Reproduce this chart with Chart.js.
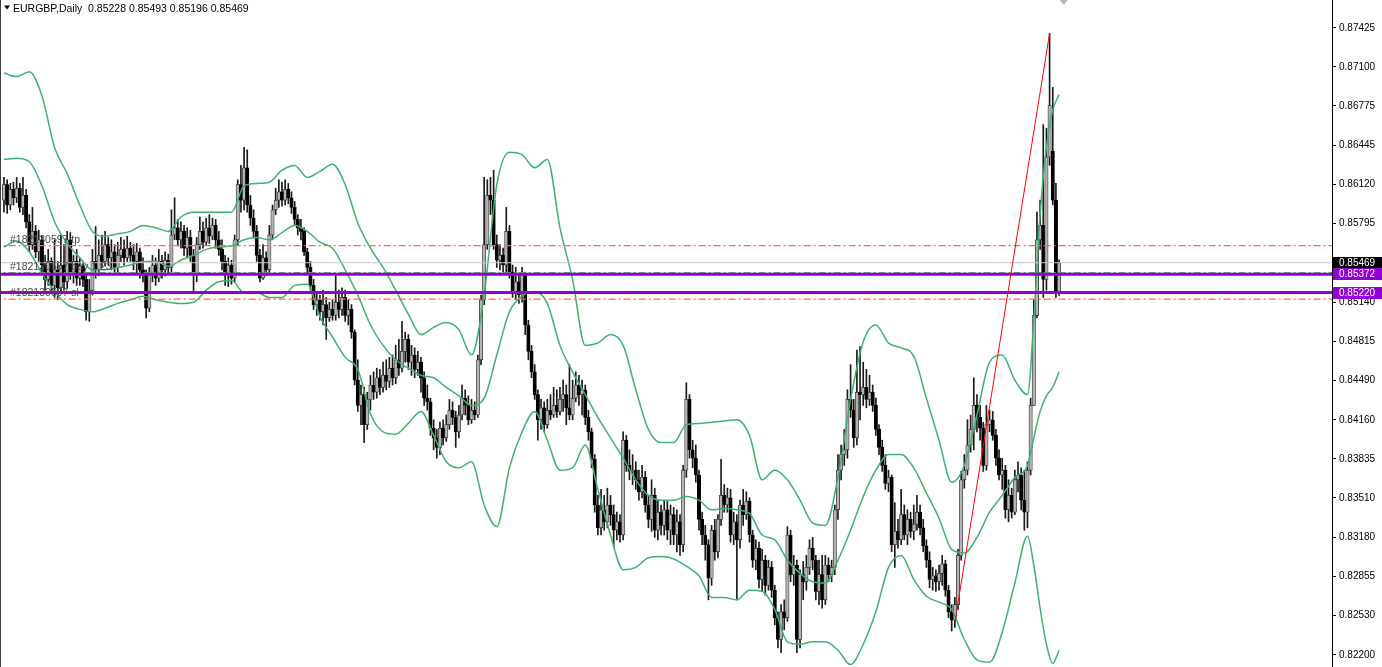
<!DOCTYPE html>
<html>
<head>
<meta charset="utf-8">
<script src="https://cdn.jsdelivr.net/npm/chart.js@4.4.0/dist/chart.umd.min.js"></script>
<style>
html,body{margin:0;padding:0;background:#fff;overflow:hidden}
#wrap{width:1382px;height:667px;position:relative}
</style>
</head>
<body>
<div id="wrap"><canvas id="c" width="1382" height="667"></canvas></div>
<script>
// ---------------- DATA (EURGBP, Daily) ----------------
const headerText = 'EURGBP,Daily  0.85228 0.85493 0.85196 0.85469';

const opens = [
0.8599,0.8612,0.8595,0.8608,0.8601,0.8609,0.8593,0.8603,0.8581,0.8562,
0.8573,0.8556,0.8566,0.8545,0.8533,0.8548,0.8528,0.8541,0.8526,0.8545,
0.8531,0.8566,0.8539,0.8548,0.8534,0.8544,0.8533,0.8506,0.8524,0.8548,
0.8541,0.8553,0.8548,0.8562,0.8551,0.8556,0.8543,0.8553,0.8558,0.8551,
0.8559,0.8553,0.8548,0.8556,0.8541,0.8537,0.8509,0.8537,0.8545,0.8534,
0.8548,0.8541,0.8549,0.8543,0.8570,0.8576,0.8566,0.8573,0.8559,0.8568,
0.8553,0.8537,0.8562,0.8573,0.8564,0.8576,0.8569,0.8578,0.8566,0.8558,
0.8548,0.8537,0.8545,0.8534,0.8566,0.8612,0.8599,0.8626,0.8595,0.8584,
0.8573,0.8553,0.8534,0.8551,0.8541,0.8570,0.8591,0.8599,0.8606,0.8599,
0.8608,0.8601,0.8593,0.8583,0.8576,0.8573,0.8556,0.8543,0.8528,0.8512,
0.8516,0.8506,0.8512,0.8501,0.8508,0.8503,0.8514,0.8508,0.8518,0.8503,
0.8508,0.8489,0.8449,0.8428,0.8437,0.8412,0.8433,0.8445,0.8439,0.8451,
0.8443,0.8453,0.8448,0.8459,0.8451,0.8466,0.8459,0.8473,0.8483,0.8464,
0.8470,0.8458,0.8464,0.8451,0.8434,0.8431,0.8409,0.8401,0.8393,0.8409,
0.8401,0.8412,0.8424,0.8418,0.8406,0.8420,0.8434,0.8428,0.8416,0.8424,
0.8420,0.8466,0.8516,0.8562,0.8603,0.8599,0.8562,0.8549,0.8553,0.8545,
0.8573,0.8539,0.8523,0.8531,0.8520,0.8537,0.8495,0.8473,0.8456,0.8437,
0.8416,0.8426,0.8412,0.8424,0.8420,0.8428,0.8423,0.8433,0.8437,0.8426,
0.8420,0.8434,0.8445,0.8437,0.8441,0.8418,0.8406,0.8383,0.8345,0.8326,
0.8341,0.8331,0.8345,0.8337,0.8324,0.8331,0.8320,0.8399,0.8378,0.8373,
0.8374,0.8366,0.8356,0.8368,0.8345,0.8333,0.8353,0.8324,0.8339,0.8328,
0.8341,0.8324,0.8337,0.8320,0.8331,0.8312,0.8374,0.8433,0.8391,0.8384,
0.8370,0.8333,0.8320,0.8312,0.8284,0.8324,0.8306,0.8333,0.8353,0.8345,
0.8351,0.8320,0.8331,0.8316,0.8345,0.8337,0.8348,0.8320,0.8299,0.8309,
0.8283,0.8299,0.8278,0.8293,0.8274,0.8251,0.8233,0.8256,0.8251,0.8320,
0.8287,0.8295,0.8233,0.8287,0.8281,0.8293,0.8309,0.8299,0.8273,0.8287,
0.8266,0.8295,0.8287,0.8293,0.8341,0.8374,0.8387,0.8391,0.8433,0.8424,
0.8401,0.8439,0.8437,0.8443,0.8433,0.8439,0.8428,0.8408,0.8393,0.8378,
0.8363,0.8368,0.8312,0.8323,0.8316,0.8337,0.8320,0.8333,0.8323,0.8329,
0.8339,0.8326,0.8311,0.8299,0.8283,0.8286,0.8281,0.8288,0.8296,0.8274,
0.8256,0.8249,0.8262,0.8303,0.8366,0.8374,0.8395,0.8408,0.8428,0.8418,
0.8409,0.8378,0.8412,0.8416,0.8403,0.8384,0.8370,0.8374,0.8341,0.8353,
0.8339,0.8366,0.8370,0.8349,0.8339,0.8374,0.8428,0.8503,0.8566,0.8578,
0.8533,0.8635,0.8640,0.8599,0.85228
];

const highs = [
0.8618,0.8616,0.8613,0.8614,0.8618,0.8613,0.8618,0.8608,0.8587,0.8593,
0.8578,0.8574,0.8569,0.8553,0.8558,0.8551,0.8566,0.8548,0.8570,0.8562,
0.8573,0.8572,0.8553,0.8558,0.8551,0.8548,0.8539,0.8533,0.8558,0.8577,
0.8566,0.8570,0.8573,0.8568,0.8566,0.8562,0.8564,0.8568,0.8566,0.8569,
0.8564,0.8562,0.8563,0.8559,0.8551,0.8541,0.8543,0.8553,0.8551,0.8558,
0.8553,0.8556,0.8554,0.8591,0.8601,0.8583,0.8581,0.8578,0.8576,0.8574,
0.8558,0.8568,0.8585,0.8581,0.8584,0.8587,0.8584,0.8583,0.8573,0.8566,
0.8553,0.8551,0.8549,0.8570,0.8616,0.8628,0.8643,0.8641,0.8603,0.8591,
0.8578,0.8558,0.8562,0.8556,0.8578,0.8595,0.8609,0.8616,0.8614,0.8616,
0.8613,0.8606,0.8598,0.8587,0.8583,0.8576,0.8559,0.8548,0.8533,0.8523,
0.8520,0.8524,0.8518,0.8514,0.8516,0.8538,0.8524,0.8526,0.8524,0.8516,
0.8512,0.8491,0.8466,0.8445,0.8443,0.8439,0.8453,0.8456,0.8459,0.8458,
0.8464,0.8466,0.8468,0.8470,0.8478,0.8483,0.8498,0.8489,0.8487,0.8478,
0.8476,0.8473,0.8468,0.8456,0.8445,0.8434,0.8416,0.8408,0.8414,0.8416,
0.8420,0.8433,0.8431,0.8423,0.8428,0.8445,0.8441,0.8436,0.8433,0.8431,
0.8470,0.8520,0.8618,0.8616,0.8618,0.8624,0.8570,0.8562,0.8559,0.8593,
0.8578,0.8545,0.8543,0.8537,0.8543,0.8539,0.8499,0.8478,0.8462,0.8441,
0.8433,0.8431,0.8433,0.8437,0.8443,0.8441,0.8443,0.8449,0.8445,0.8462,
0.8449,0.8456,0.8453,0.8449,0.8445,0.8424,0.8409,0.8387,0.8353,0.8358,
0.8353,0.8359,0.8353,0.8345,0.8339,0.8337,0.8406,0.8403,0.8391,0.8387,
0.8381,0.8374,0.8378,0.8373,0.8353,0.8366,0.8359,0.8349,0.8345,0.8349,
0.8348,0.8345,0.8343,0.8341,0.8337,0.8378,0.8447,0.8437,0.8399,0.8395,
0.8374,0.8339,0.8328,0.8316,0.8328,0.8333,0.8337,0.8383,0.8362,0.8359,
0.8358,0.8339,0.8337,0.8349,0.8358,0.8356,0.8351,0.8324,0.8316,0.8314,
0.8308,0.8303,0.8299,0.8298,0.8278,0.8256,0.8262,0.8266,0.8327,0.8324,
0.8303,0.8299,0.8291,0.8298,0.8303,0.8316,0.8318,0.8303,0.8299,0.8303,
0.8303,0.8301,0.8299,0.8345,0.8387,0.8395,0.8408,0.8441,0.8462,0.8433,
0.8474,0.8477,0.8464,0.8458,0.8453,0.8445,0.8434,0.8412,0.8399,0.8387,
0.8374,0.8370,0.8347,0.8333,0.8358,0.8345,0.8341,0.8339,0.8345,0.8353,
0.8345,0.8333,0.8316,0.8306,0.8293,0.8291,0.8295,0.8303,0.8299,0.8278,
0.8262,0.8268,0.8308,0.8373,0.8387,0.8416,0.8420,0.8451,0.8437,0.8428,
0.8414,0.8428,0.8424,0.8423,0.8408,0.8391,0.8384,0.8378,0.8366,0.8359,
0.8374,0.8381,0.8376,0.8374,0.8381,0.8434,0.8516,0.8589,0.8599,0.8662,
0.8659,0.8738,0.8693,0.8613,0.85493
];

const lows = [
0.8589,0.8588,0.8591,0.8595,0.8597,0.8589,0.8587,0.8576,0.8556,0.8558,
0.8551,0.8548,0.8539,0.8524,0.8528,0.8523,0.8518,0.8516,0.8522,0.8524,
0.8526,0.8533,0.8530,0.8528,0.8528,0.8527,0.8499,0.8498,0.8520,0.8534,
0.8536,0.8543,0.8544,0.8545,0.8541,0.8537,0.8539,0.8548,0.8545,0.8548,
0.8548,0.8541,0.8537,0.8534,0.8531,0.8501,0.8506,0.8531,0.8528,0.8531,
0.8534,0.8536,0.8538,0.8539,0.8566,0.8561,0.8559,0.8553,0.8551,0.8548,
0.8523,0.8531,0.8558,0.8559,0.8561,0.8563,0.8566,0.8559,0.8553,0.8541,
0.8528,0.8527,0.8529,0.8531,0.8562,0.8589,0.8591,0.8589,0.8578,0.8568,
0.8548,0.8531,0.8533,0.8536,0.8539,0.8566,0.8587,0.8593,0.8594,0.8595,
0.8596,0.8588,0.8578,0.8570,0.8566,0.8553,0.8537,0.8524,0.8508,0.8503,
0.8499,0.8495,0.8483,0.8498,0.8499,0.8499,0.8501,0.8503,0.8498,0.8495,
0.8484,0.8445,0.8423,0.8412,0.8397,0.8408,0.8424,0.8433,0.8434,0.8437,
0.8439,0.8441,0.8443,0.8445,0.8446,0.8453,0.8456,0.8464,0.8458,0.8453,
0.8451,0.8453,0.8439,0.8428,0.8424,0.8403,0.8391,0.8384,0.8387,0.8395,
0.8398,0.8408,0.8412,0.8393,0.8401,0.8416,0.8420,0.8412,0.8413,0.8416,
0.8418,0.8462,0.8512,0.8558,0.8587,0.8558,0.8543,0.8541,0.8539,0.8537,
0.8534,0.8518,0.8516,0.8513,0.8514,0.8487,0.8466,0.8451,0.8433,0.8399,
0.8408,0.8406,0.8409,0.8416,0.8418,0.8418,0.8420,0.8423,0.8412,0.8416,
0.8416,0.8431,0.8428,0.8420,0.8412,0.8399,0.8376,0.8339,0.8320,0.8320,
0.8324,0.8326,0.8328,0.8310,0.8316,0.8314,0.8316,0.8373,0.8366,0.8362,
0.8358,0.8349,0.8351,0.8339,0.8326,0.8323,0.8318,0.8316,0.8320,0.8320,
0.8316,0.8312,0.8312,0.8306,0.8303,0.8306,0.8368,0.8384,0.8376,0.8364,
0.8324,0.8312,0.8299,0.8266,0.8278,0.8299,0.8301,0.8328,0.8339,0.8339,
0.8314,0.8312,0.8266,0.8309,0.8328,0.8333,0.8314,0.8293,0.8291,0.8276,
0.8273,0.8270,0.8274,0.8268,0.8245,0.8226,0.8222,0.8241,0.8248,0.8281,
0.8278,0.8222,0.8226,0.8266,0.8274,0.8287,0.8291,0.8266,0.8262,0.8259,
0.8262,0.8281,0.8281,0.8287,0.8333,0.8366,0.8378,0.8384,0.8418,0.8393,
0.8395,0.8416,0.8428,0.8426,0.8428,0.8423,0.8403,0.8387,0.8373,0.8358,
0.8356,0.8306,0.8293,0.8309,0.8312,0.8316,0.8312,0.8318,0.8316,0.8324,
0.8320,0.8306,0.8293,0.8276,0.8274,0.8273,0.8274,0.8278,0.8269,0.8251,
0.8240,0.8243,0.8258,0.8299,0.8359,0.8370,0.8389,0.8391,0.8406,0.8399,
0.8373,0.8374,0.8406,0.8399,0.8378,0.8366,0.8358,0.8334,0.8331,0.8334,
0.8337,0.8356,0.8341,0.8324,0.8326,0.8370,0.8428,0.8501,0.8558,0.8518,
0.8524,0.8628,0.8595,0.8518,0.85196
];

const closes = [
0.8612,0.8595,0.8608,0.8601,0.8609,0.8593,0.8603,0.8581,0.8562,0.8573,
0.8556,0.8566,0.8545,0.8533,0.8548,0.8528,0.8541,0.8526,0.8545,0.8531,
0.8566,0.8539,0.8548,0.8534,0.8544,0.8533,0.8506,0.8524,0.8548,0.8541,
0.8553,0.8548,0.8562,0.8551,0.8556,0.8543,0.8553,0.8558,0.8551,0.8559,
0.8553,0.8548,0.8556,0.8541,0.8537,0.8509,0.8537,0.8545,0.8534,0.8548,
0.8541,0.8549,0.8543,0.8570,0.8576,0.8566,0.8573,0.8559,0.8568,0.8553,
0.8537,0.8562,0.8573,0.8564,0.8576,0.8569,0.8578,0.8566,0.8558,0.8548,
0.8537,0.8545,0.8534,0.8566,0.8612,0.8599,0.8626,0.8595,0.8584,0.8573,
0.8553,0.8534,0.8551,0.8541,0.8570,0.8591,0.8599,0.8606,0.8599,0.8608,
0.8601,0.8593,0.8583,0.8576,0.8573,0.8556,0.8543,0.8528,0.8512,0.8516,
0.8506,0.8512,0.8501,0.8508,0.8503,0.8514,0.8508,0.8518,0.8503,0.8508,
0.8489,0.8449,0.8428,0.8437,0.8412,0.8433,0.8445,0.8439,0.8451,0.8443,
0.8453,0.8448,0.8459,0.8451,0.8466,0.8459,0.8473,0.8483,0.8464,0.8470,
0.8458,0.8464,0.8451,0.8434,0.8431,0.8409,0.8401,0.8393,0.8409,0.8401,
0.8412,0.8424,0.8418,0.8406,0.8420,0.8434,0.8428,0.8416,0.8424,0.8420,
0.8466,0.8516,0.8562,0.8603,0.8599,0.8562,0.8549,0.8553,0.8545,0.8573,
0.8539,0.8523,0.8531,0.8520,0.8537,0.8495,0.8473,0.8456,0.8437,0.8416,
0.8426,0.8412,0.8424,0.8420,0.8428,0.8423,0.8433,0.8437,0.8426,0.8420,
0.8434,0.8445,0.8437,0.8441,0.8418,0.8406,0.8383,0.8345,0.8326,0.8341,
0.8331,0.8345,0.8337,0.8324,0.8331,0.8320,0.8399,0.8378,0.8373,0.8374,
0.8366,0.8356,0.8368,0.8345,0.8333,0.8353,0.8324,0.8339,0.8328,0.8341,
0.8324,0.8337,0.8320,0.8331,0.8312,0.8374,0.8433,0.8391,0.8384,0.8370,
0.8333,0.8320,0.8312,0.8284,0.8324,0.8306,0.8333,0.8353,0.8345,0.8351,
0.8320,0.8331,0.8316,0.8345,0.8337,0.8348,0.8320,0.8299,0.8309,0.8283,
0.8299,0.8278,0.8293,0.8274,0.8251,0.8233,0.8256,0.8251,0.8320,0.8287,
0.8295,0.8233,0.8287,0.8281,0.8293,0.8309,0.8299,0.8273,0.8287,0.8266,
0.8295,0.8287,0.8293,0.8341,0.8374,0.8387,0.8391,0.8433,0.8424,0.8401,
0.8439,0.8437,0.8443,0.8433,0.8439,0.8428,0.8408,0.8393,0.8378,0.8363,
0.8368,0.8312,0.8323,0.8316,0.8337,0.8320,0.8333,0.8323,0.8329,0.8339,
0.8326,0.8311,0.8299,0.8283,0.8286,0.8281,0.8288,0.8296,0.8274,0.8256,
0.8249,0.8262,0.8303,0.8366,0.8374,0.8395,0.8408,0.8428,0.8418,0.8409,
0.8378,0.8412,0.8416,0.8403,0.8384,0.8370,0.8374,0.8341,0.8353,0.8339,
0.8366,0.8370,0.8349,0.8339,0.8374,0.8428,0.8503,0.8566,0.8578,0.8533,
0.8635,0.8678,0.8599,0.8523,0.85469
];

// Bollinger Bands at these bar indices
const bandIdx = [0,4,8,12,16,20,24,28,32,36,40,44,48,52,56,60,64,68,72,76,80,84,88,92,96,
100,104,108,112,116,120,124,128,132,136,140,144,148,152,156,160,164,168,172,176,180,184,188,192,196,
200,204,208,212,216,220,224,228,232,236,240,244,248,252,256,260,264,268,272,276,280,284,288,292,296,
300,304,308,312,316,320,324,326,328,330,332,334];
const bbUpper = [
0.8705,0.8702,0.8706,0.8686,0.8643,0.8621,0.8595,0.8573,0.8569,0.8571,
0.8573,0.8578,0.8576,0.8573,0.8585,0.8589,0.8589,0.8589,0.8589,0.8611,
0.8613,0.8614,0.8624,0.8628,0.8618,0.8623,0.8629,0.8612,0.8580,0.8559,
0.8543,0.8524,0.8504,0.8487,0.8493,0.8497,0.8491,0.8470,0.8520,0.8612,
0.8639,0.8637,0.8626,0.8633,0.8576,0.8533,0.8478,0.8480,0.8487,0.8478,
0.8441,0.8408,0.8397,0.8397,0.8412,0.8413,0.8414,0.8415,0.8416,0.8403,
0.8366,0.8374,0.8366,0.8349,0.8330,0.8328,0.8368,0.8433,0.8481,0.8495,
0.8480,0.8476,0.8469,0.8434,0.8399,0.8364,0.8378,0.8420,0.8464,0.8470,
0.8449,0.8437,0.8499,0.8587,0.8643,0.8674,0.8687];
const bbMiddle = [
0.8633,0.8634,0.8631,0.8611,0.8581,0.8563,0.8551,0.8541,0.8541,0.8543,
0.8545,0.8548,0.8548,0.8544,0.8549,0.8553,0.8558,0.8560,0.8561,0.8566,
0.8568,0.8566,0.8572,0.8578,0.8573,0.8564,0.8559,0.8541,0.8520,0.8495,
0.8478,0.8466,0.8459,0.8453,0.8451,0.8443,0.8436,0.8428,0.8434,0.8470,
0.8506,0.8519,0.8523,0.8513,0.8478,0.8456,0.8437,0.8418,0.8401,0.8384,
0.8366,0.8353,0.8349,0.8349,0.8352,0.8349,0.8341,0.8342,0.8341,0.8338,
0.8320,0.8316,0.8299,0.8288,0.8281,0.8280,0.8299,0.8324,0.8352,0.8374,
0.8387,0.8387,0.8376,0.8355,0.8334,0.8308,0.8305,0.8318,0.8339,0.8353,
0.8368,0.8378,0.8401,0.8423,0.8436,0.8443,0.8456];
const bbLower = [
0.8560,0.8565,0.8556,0.8538,0.8523,0.8512,0.8508,0.8506,0.8509,0.8513,
0.8516,0.8519,0.8516,0.8514,0.8513,0.8514,0.8524,0.8531,0.8532,0.8522,
0.8522,0.8518,0.8518,0.8528,0.8529,0.8502,0.8485,0.8468,0.8458,0.8421,
0.8406,0.8404,0.8413,0.8423,0.8403,0.8381,0.8376,0.8381,0.8345,0.8327,
0.8376,0.8406,0.8423,0.8399,0.8374,0.8376,0.8395,0.8358,0.8320,0.8291,
0.8293,0.8301,0.8302,0.8300,0.8294,0.8286,0.8268,0.8268,0.8266,0.8274,
0.8273,0.8258,0.8231,0.8229,0.8231,0.8231,0.8224,0.8212,0.8229,0.8256,
0.8293,0.8303,0.8283,0.8269,0.8264,0.8258,0.8233,0.8216,0.8214,0.8239,
0.8280,0.8319,0.8295,0.8259,0.8229,0.8213,0.8224];

// Price axis ticks
const yTicks = [0.87425,0.87100,0.86775,0.86445,0.86120,0.85795,0.85140,0.84815,
                0.84490,0.84160,0.83835,0.83510,0.83180,0.82855,0.82530,0.82200];

// Order / level objects
const orderLabels = ['#182130597 tp', '#182130597 buy 1.23', '#182130597 sl'];
const orderPrices = [0.85611, 0.85386, 0.85166];
const alertPrices = [0.85372, 0.85220];
const bidPrice = 0.85469;

// Trend line (bar index, price)
const trendIdx = [301, 331];
const trendPrices = [0.8247, 0.8738];

// ---------------- CHART ----------------
const X_MIN = -1.27, X_MAX = 420.4;
const Y_MIN = 0.821, Y_MAX = 0.8765833;

const idx = closes.map((_, i) => i);
const isBull = idx.map(i => closes[i] >= opens[i]);
const wickData = idx.map(i => ({x: i, y: [lows[i], highs[i]]}));
const bodyData = idx.map(i => ({x: i, y: [opens[i], closes[i]]}));
const bodyFill = idx.map(i => isBull[i] ? '#b4b4b4' : '#000000');
const bodyEdge = idx.map(i => isBull[i] ? '#383838' : '#000000');
const band = arr => bandIdx.map((b, k) => ({x: b, y: arr[k]}));
const hline = p => [{x: X_MIN - 2, y: p}, {x: X_MAX + 2, y: p}];

const lineBase = {type: 'line', pointRadius: 0, fill: false, borderWidth: 1};
const dashDot = [7, 3, 2, 3];

const datasets = [
  {type: 'bar', label: 'wick', data: wickData, backgroundColor: '#1a1a1a', barThickness: 1,
   grouped: false, minBarLength: 1, order: 9},
  {type: 'bar', label: 'body', data: bodyData, backgroundColor: bodyFill, borderColor: bodyEdge,
   borderWidth: 0.8, borderSkipped: false, barThickness: 3.4, grouped: false, minBarLength: 1, order: 8},
  {...lineBase, label: 'bbUpper', data: band(bbUpper), borderColor: '#3CB371', borderWidth: 1.5, cubicInterpolationMode: 'monotone', order: 7},
  {...lineBase, label: 'bbMiddle', data: band(bbMiddle), borderColor: '#3CB371', borderWidth: 1.5, cubicInterpolationMode: 'monotone', order: 7},
  {...lineBase, label: 'bbLower', data: band(bbLower), borderColor: '#3CB371', borderWidth: 1.5, cubicInterpolationMode: 'monotone', order: 7},
  {...lineBase, label: 'bid', data: hline(bidPrice), borderColor: '#c8c8c8', order: 6},
  {...lineBase, label: 'tp', data: hline(orderPrices[0]), borderColor: '#ff6a3a', borderDash: dashDot, borderWidth: 1.2, order: 5},
  {...lineBase, label: 'entry', data: hline(orderPrices[1]), borderColor: '#5cb85c', borderDash: dashDot, borderWidth: 1.3, order: 5},
  {...lineBase, label: 'sl', data: hline(orderPrices[2]), borderColor: '#ff6a3a', borderDash: dashDot, borderWidth: 1.2, order: 5},
  {...lineBase, label: 'alert1', data: hline(alertPrices[0]), borderColor: '#9400D3', borderWidth: 3, order: 4},
  {...lineBase, label: 'alert2', data: hline(alertPrices[1]), borderColor: '#9400D3', borderWidth: 3, order: 4},
  {...lineBase, label: 'trend', data: trendIdx.map((b, k) => ({x: b, y: trendPrices[k]})), borderColor: '#ff0000', order: 3}
];

const FONT = '"Liberation Sans", Arial, sans-serif';

const overlay = {
  id: 'mt4overlay',
  afterDraw(chart) {
    const {ctx, chartArea, scales} = chart;
    const ys = scales.y, xs = scales.x;
    ctx.save();
    // left frame
    ctx.strokeStyle = '#404040'; ctx.lineWidth = 1;
    ctx.beginPath(); ctx.moveTo(chartArea.left + 0.5, chartArea.top); ctx.lineTo(chartArea.left + 0.5, chartArea.bottom); ctx.stroke();
    // header
    ctx.fillStyle = '#000';
    ctx.beginPath(); ctx.moveTo(4, 5.5); ctx.lineTo(10, 5.5); ctx.lineTo(7, 9.5); ctx.closePath(); ctx.fill();
    ctx.font = '10.5px ' + FONT;
    ctx.textBaseline = 'alphabetic';
    ctx.textAlign = 'left';
    ctx.fillText(headerText, 13, 12);
    // order labels
    ctx.fillStyle = '#4a4a4a';
    ctx.font = '10.5px ' + FONT;
    orderLabels.forEach((t, k) => ctx.fillText(t, 10, ys.getPixelForValue(orderPrices[k]) - 3));
    // chart shift marker
    const sx = xs.getPixelForValue(closes.length + 0.5);
    ctx.fillStyle = '#b8b8b8';
    ctx.beginPath(); ctx.moveTo(sx - 4, 0); ctx.lineTo(sx + 4, 0); ctx.lineTo(sx, 5); ctx.closePath(); ctx.fill();
    // price boxes on the axis
    const boxes = [{p: bidPrice, bg: '#000000'}, {p: alertPrices[0], bg: '#9400D3'}, {p: alertPrices[1], bg: '#9400D3'}];
    ctx.textBaseline = 'middle';
    ctx.font = '10px ' + FONT;
    boxes.forEach(b => {
      const y = Math.round(ys.getPixelForValue(b.p));
      ctx.fillStyle = b.bg;
      ctx.fillRect(chartArea.right + 1, y - 6, chart.width - chartArea.right - 1, 12);
      ctx.fillStyle = '#ffffff';
      ctx.fillText(b.p.toFixed(5), chartArea.right + 7, y + 0.5);
    });
    ctx.restore();
  }
};

new Chart(document.getElementById('c'), {
  type: 'bar',
  data: {datasets},
  options: {
    responsive: false,
    animation: false,
    devicePixelRatio: 1,
    layout: {padding: 0},
    plugins: {legend: {display: false}, tooltip: {enabled: false}, title: {display: false}},
    scales: {
      x: {type: 'linear', min: X_MIN, max: X_MAX, offset: false, display: false},
      y: {
        position: 'right', min: Y_MIN, max: Y_MAX,
        afterFit(s) { s.width = 50; s.paddingTop = 0; s.paddingBottom = 0; },
        afterBuildTicks(s) { s.ticks = yTicks.map(v => ({value: v})); },
        ticks: {callback: v => Number(v).toFixed(5), color: '#000', font: {family: FONT, size: 10}, padding: 3, autoSkip: false},
        grid: {drawOnChartArea: false, drawTicks: true, tickLength: 4, color: '#000'},
        border: {display: true, color: '#000', width: 1}
      }
    }
  },
  plugins: [overlay]
});
</script>
</body>
</html>
